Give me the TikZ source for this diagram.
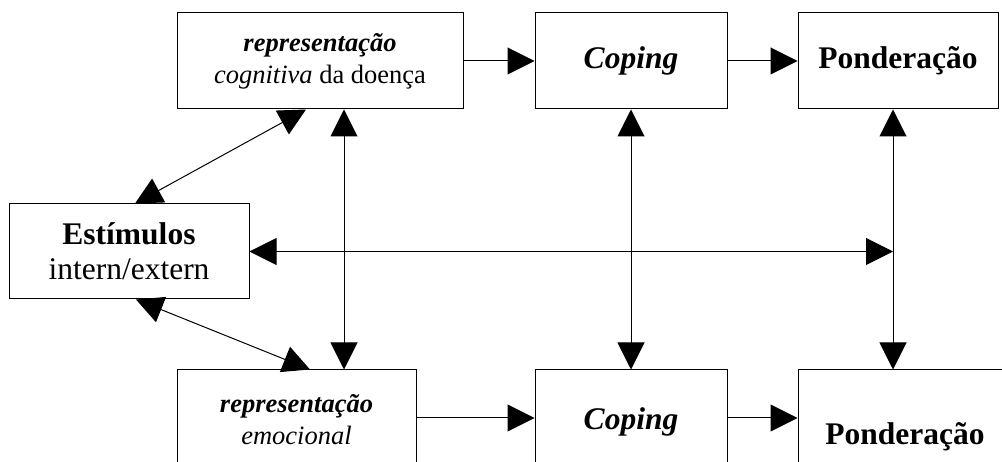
\documentclass[tikz,border=0pt]{standalone}
\usepackage{fontspec}
\setmainfont{Liberation Serif}
\usetikzlibrary{arrows.meta}
\begin{document}
\begin{tikzpicture}[x=1pt,y=-1pt,
  box/.style={draw, line width=1pt, inner sep=0pt, align=center},
  arr/.style={line width=1pt, -{Triangle[length=27pt,width=27pt]}},
  dbl/.style={line width=1pt, {Triangle[length=27pt,width=27pt]}-{Triangle[length=27pt,width=27pt]}},
  big/.style={font=\fontsize{31.5}{35}\selectfont},
  small/.style={font=\fontsize{26.5}{32}\selectfont}]
\useasboundingbox (0,0) rectangle (1002,462);
\clip (0,0) rectangle (1002,462);
% boxes
\node[box, small, minimum width=286pt, minimum height=96pt] (cog) at (320,61)
  {\textbf{\textit{representação}}\\\textit{cognitiva} da doença};
\node[box, big, minimum width=192pt, minimum height=96pt] (copt) at (631,61)
  {\textbf{\textit{Coping}}};
\node[box, big, minimum width=200pt, minimum height=96pt] (pondt) at (898,61)
  {\textbf{Ponderação}};
\node[box, big, minimum width=240pt, minimum height=95pt] (est) at (129,251.5)
  {\textbf{Estímulos}\\intern/extern};
\node[box, small, minimum width=239pt, minimum height=100pt] (emo) at (296.5,420)
  {\textbf{\textit{representação}}\\\textit{emocional}};
\node[box, big, minimum width=192pt, minimum height=104pt] (copb) at (631,422)
  {\textbf{\textit{Coping}}};
\node[box, big, minimum width=214pt, minimum height=134pt] (pondb) at (905,437)
  {\textbf{Ponderação}};
% helper coordinates
\coordinate (v1) at (344,0);
\coordinate (v3) at (893,0);
\coordinate (d1) at (135,0);
\coordinate (d2) at (306,0);
\coordinate (d3) at (136,0);
\coordinate (d4) at (310,0);
\coordinate (hb) at (0,418);
\coordinate (pj) at (893,251.5);
% horizontal flow
\draw[arr] (cog.east) -- (copt.west);
\draw[arr] (copt.east) -- (pondt.west);
\draw[arr] (emo.east |- hb) -- (copb.west |- hb);
\draw[arr] (copb.east |- hb) -- (pondb.west |- hb);
% verticals
\draw[dbl] (cog.south -| v1) -- (emo.north -| v1);
\draw[dbl] (copt.south) -- (copb.north);
\draw[dbl] (pondt.south -| v3) -- (pondb.north -| v3);
% diagonals
\draw[dbl] (est.north -| d1) -- (cog.south -| d2);
\draw[dbl] (est.south -| d3) -- (emo.north -| d4);
% long horizontal
\draw[dbl] (est.east) -- (pj);
\end{tikzpicture}
\end{document}
